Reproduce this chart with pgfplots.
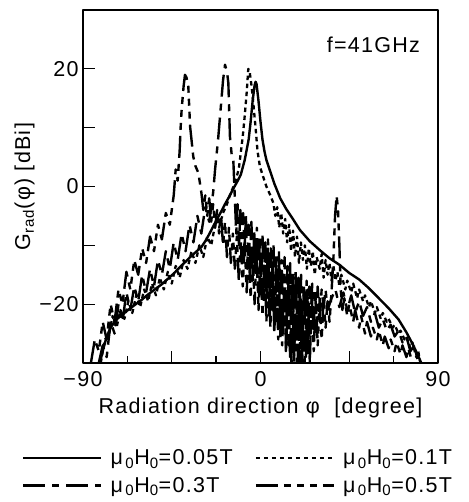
\documentclass[border=0pt]{standalone}
\usepackage{pgfplots}
\pgfplotsset{compat=1.18}
\usepackage{fontspec}
\setmainfont{Liberation Sans}[LetterSpace=6]
\newcommand{\fs}{\fontsize{21.5}{25}\selectfont}
\newcommand{\legtxt}[1]{\hspace*{8pt}μ\textsubscript{\,0}H\textsubscript{0}=#1}
\begin{document}
\begin{tikzpicture}
\begin{axis}[
  at={(0,0)}, anchor=south west,
  scale only axis, width=355pt, height=353pt,
  xmin=-90, xmax=90, ymin=-30, ymax=30,
  xtick={-90,-45,0,45,90}, xticklabels={−90,,0,,90},
  minor xtick={-67.5,-22.5,22.5,67.5},
  ytick={-20,-10,0,10,20}, yticklabels={−20,,0,,20},
  xtick pos=bottom, ytick pos=left,
  major tick length=12pt, minor tick length=7pt,
  every tick/.style={black, line width=1.3pt},
  axis line style={line width=1.6pt},
  tick label style={font=\fs},
  xticklabel style={yshift=-5pt},
  yticklabel style={xshift=-1pt},
  label style={font=\fs},
  xlabel={Radiation direction φ~~[degree]},
  ylabel={G\textsubscript{rad}(φ) [dBi]},
  xlabel style={yshift=-4pt},
  ylabel style={yshift=-2pt},
  line join=round,
  legend columns=2,
  legend style={draw=none, fill=none, font=\fs, at={(-0.172,-0.24)}, anchor=north west,
    nodes={inner xsep=0pt, inner ysep=2pt},
    /tikz/every even column/.append style={column sep=22pt},
    row sep=7pt, inner sep=0pt},
  legend cell align=left,
  legend image code/.code={\draw[#1] (0pt,0pt) -- (78pt,0pt);},
]
% 0.05T solid
\addplot[black, line width=2.4pt] coordinates {
(-81.5,-30) (-80,-28) (-78,-25.5) (-76,-24) (-74,-23) (-72,-22.3) (-70,-21.8) (-68,-21.2)
(-66,-20.7) (-64,-20.2) (-62,-19.7) (-60,-19.2) (-58,-18.6) (-56,-18.1) (-54,-17.6) (-52,-17.1)
(-50,-16.6) (-48,-16) (-46,-15.4) (-44,-14.8) (-42,-14.1) (-40,-13.4) (-38,-12.8) (-36,-12.1)
(-34,-11.5) (-32,-10.9) (-30,-10.3) (-28,-9.3) (-26,-8.1) (-24,-6.8) (-22,-5.5) (-20,-4.3)
(-18,-3) (-16,-1.8) (-14,-0.5) (-12,0.7) (-10,2) (-8,4.5) (-6,8) (-5,11) (-4,14.5) (-3,17.2)
(-2.5,17.8) (-2,17.4) (-1,14.5) (0,11) (1,8) (2,6) (3,4.5) (5,2.5) (7,0.5) (10,-2) (13,-3.8)
(16,-5.3) (20,-7.4) (25,-9.3) (30,-10.8) (35,-12.2) (40,-13.3) (45,-14.7) (50,-15.8) (55,-17.3)
(60,-19) (65,-20.7) (70,-22.6) (74,-24.8) (77,-26.7) (80,-28.8) (81.5,-30)
};
\addlegendentry{\legtxt{0.05T}}
% 0.1T dotted
\addplot[black, line width=2.3pt, dash pattern=on 4.5pt off 3.5pt] coordinates {
(-81,-30) (-79,-26) (-77,-25.5) (-75,-22) (-73,-24) (-71,-21) (-69,-22.5) (-67,-19.5) (-65,-21.5)
(-63,-18.5) (-61,-20.5) (-59,-17.5) (-57,-19.5) (-55,-16.5) (-53,-18.5) (-51,-15.5) (-49,-17.5)
(-47,-14.5) (-45,-16.5) (-43,-13.5) (-41,-15.5) (-39,-12.5) (-37,-14) (-35,-11) (-33,-13) (-31,-10)
(-29,-12) (-27,-8.5) (-25,-10) (-23,-6.5) (-21,-7) (-19,-4.5) (-17,-3) (-15,-1) (-13,0.5) (-11,3)
(-9,8.5) (-8,12) (-7,16) (-6.2,20) (-5.5,19.5) (-4.5,17) (-3.6,14) (-2.5,10) (-1.5,6) (-0.3,3.4)
(1,2) (3,0) (5,-1.5) (6.5,-2.8) (7.5,-5) (8.5,-3.5) (9.5,-7) (10.5,-4.5) (11.5,-8) (12.5,-5.5)
(13.5,-9.5) (14.5,-6.5) (15.5,-11) (16.5,-7.5) (17.5,-12) (18.5,-8.5) (19.5,-13) (20.5,-9.5)
(21.5,-12.5) (22.5,-10) (23.5,-14) (24.5,-10.5) (25.5,-13.5) (26.5,-11) (27.5,-15) (28.5,-12)
(30,-14) (31,-11.5) (32,-15.5) (33,-12.5) (34,-15) (35,-13) (36,-16) (37,-13.5) (38,-16) (39,-14.5)
(40,-17) (41,-15) (43,-17.5) (44,-16) (46,-18) (47,-16.5) (49,-19) (50,-17.5) (52,-19.5) (53,-18.5)
(55,-20.5) (56,-19.5) (58,-21.5) (59,-20.5) (61,-22.5) (62,-21.5) (64,-23) (65,-22.5) (67,-24)
(68,-23.5) (70,-25) (71,-24.5) (73,-26) (74,-25.5) (76,-27.5) (77,-26.5) (79,-29) (80,-28) (81,-30)
};
\addlegendentry{\legtxt{0.1T}}
% 0.3T dash-dot
\addplot[black, line width=2.4pt, dash pattern=on 22pt off 7pt on 7pt off 7pt] coordinates {
(-82,-30) (-80,-27) (-78,-29) (-76,-23) (-74,-25) (-72,-20) (-70,-23) (-68,-18) (-66,-21) (-64,-17)
(-62,-19.5) (-60,-15) (-58,-18) (-56,-14) (-54,-17) (-52,-12.5) (-50,-15) (-48,-11) (-46,-14)
(-44,-9.5) (-42,-12.5) (-40,-8) (-38,-11) (-36,-6.5) (-34,-9.5) (-32,-5) (-30,-8) (-28,-3.5)
(-26,-6) (-24,-1) (-23,3) (-21.5,8) (-20,14) (-19,18) (-18,20.7) (-17,19.5) (-16.3,17.6)
(-15.5,8.5) (-14.5,5) (-13.8,4.6) (-13,-2) (-12.3,-8) (-11.6,-3) (-10.9,-10) (-10.2,-4) (-9.5,-12)
(-8.8,-4.5) (-8.1,-11) (-7.4,-5) (-6.7,-14) (-6,-6.5) (-5.3,-13) (-4.6,-6) (-3.9,-16) (-3.2,-7.5)
(-2.5,-15) (-1.8,-7) (-1.1,-18) (-0.4,-8.5) (0.3,-17) (1,-8) (1.7,-20) (2.4,-9.5) (3.1,-19) (3.8,-9)
(4.5,-22) (5.2,-10.5) (5.9,-21) (6.6,-10) (7.3,-24) (8,-11.5) (8.7,-23) (9.4,-11) (10.1,-26)
(10.8,-12.5) (11.5,-25) (12.2,-12) (12.9,-28) (13.6,-13.5) (14.3,-27) (15,-13) (15.7,-31)
(16.4,-14.5) (17.1,-29) (17.8,-14) (18.5,-31) (19.2,-15.5) (19.9,-30) (20.6,-15) (21.3,-31)
(22,-16.5) (22.7,-28) (23.4,-16) (24.1,-29) (24.8,-17) (25.5,-25) (26.2,-16.5) (26.9,-26) (27.6,-17.5)
(28.3,-22) (29,-17) (30,-23) (31,-17.5) (32,-20.5) (33,-17.5) (34,-21) (36,-19) (38,-17.5)
(40,-20.5) (42,-18) (44,-21) (46,-18.5) (48,-21.5) (50,-19.5) (52,-22) (54,-20.5) (56,-23) (58,-21.5)
(60,-24) (62,-22.5) (64,-24.5) (66,-23.5) (68,-25.5) (70,-24.5) (72,-26.5) (74,-25.5) (76,-28)
(78,-27) (80,-30)
};
\addlegendentry{\legtxt{0.3T}}
% 0.5T dashed
\addplot[black, line width=2.4pt, dash pattern=on 22pt off 6pt on 7pt off 6pt on 7pt off 6pt on 7pt off 6pt] coordinates {
(-86,-30) (-84,-26) (-82,-28) (-80,-23) (-78,-26) (-76,-20) (-74,-23) (-72,-17.5) (-70,-20)
(-68,-14.5) (-66,-17.5) (-64,-12.5) (-62,-15) (-60,-10.5) (-58,-13) (-56,-8.5) (-54,-11) (-52,-6.5)
(-50,-9) (-48,-4.5) (-46,-6.5) (-44,-1.5) (-43,2.9) (-42,1) (-41,6) (-40.5,10) (-40,13) (-39,17)
(-38.3,19) (-37.5,18.5) (-36.6,17) (-35.7,10.2) (-35,8) (-34.1,5.1) (-33,3.5) (-31.5,2.3) (-30,-1)
(-29,-4) (-28,-1.5) (-27,-5) (-26,-2) (-25,-6) (-24,-3) (-23,-7) (-22,-4) (-21,-8) (-20,-5)
(-19,-10) (-18,-6) (-17,-12) (-16,-7) (-15,-13) (-14,-8) (-13,-14) (-12,-8.5) (-11,-16) (-10,-9)
(-9,-17) (-8,-9.5) (-7,-18) (-6,-10) (-5,-19) (-4,-10.5) (-3,-20) (-2,-11) (-1,-21) (0,-11.5)
(1,-22) (2,-12) (3,-23) (4,-12.5) (5,-24) (6,-13) (7,-25) (8,-13.5) (9,-26) (10,-14) (11,-27)
(12,-14.5) (13,-28) (14,-15) (15,-29) (16,-15.5) (17,-30) (18,-16) (19,-30) (20,-16.5) (21,-30)
(22,-17) (23,-29) (24,-17.5) (25,-30) (26,-18) (27,-28) (28,-18.5) (29,-27) (30,-19) (31,-26)
(32,-19) (33,-24) (34,-19.5) (35,-23) (36,-18) (37,-12) (37.8,-5) (38.6,-1.6) (39.3,-4) (40,-10)
(40.6,-17) (41.5,-21) (42.5,-19) (44,-22) (45,-20) (47,-23) (48,-21) (50,-24) (51,-22) (53,-25)
(54,-23) (56,-25.5) (57,-24) (59,-26) (60,-24.5) (62,-27) (63,-25.5) (65,-27.5) (66,-26) (68,-28)
(69,-26.5) (71,-28.5) (72,-27) (74,-29) (75,-27.5) (77,-30)
};
\addlegendentry{\legtxt{0.5T}}
\node[font=\fs] at (rel axis cs:0.818,0.90) {f=41GHz};
\end{axis}
\path (-83pt,-139pt) rectangle (385pt,363pt);
\end{tikzpicture}
\end{document}
